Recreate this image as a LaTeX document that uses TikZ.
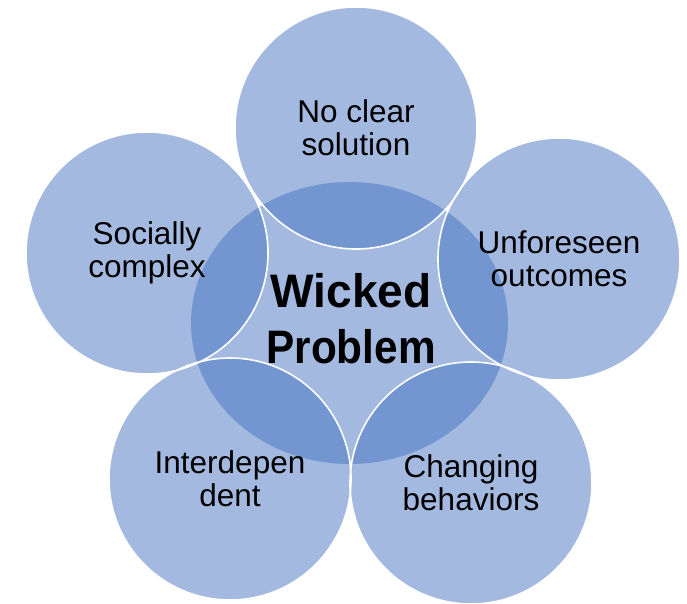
\documentclass[tikz,border=0pt]{standalone}
\usepackage{fontspec}
\setmainfont{Liberation Sans}
\newfontfamily\wfont[FakeStretch=0.9]{Liberation Sans}
\newfontfamily\wwfont[FakeStretch=0.98]{Liberation Sans}
\definecolor{lightblue}{HTML}{A3B9E0}
\definecolor{darkblue}{HTML}{7395D0}
\begin{document}
\begin{tikzpicture}[x=1pt,y=-1pt,
  lbl/.style={align=center,font=\fontsize{31.5}{33}\selectfont,inner sep=0pt,text=black},
  ring/.style={line width=1.6pt,draw=white},
  title/.style={align=center,font=\bfseries\fontsize{47}{56}\selectfont,inner sep=0pt,text=black}]
\useasboundingbox (0,0) rectangle (687,603);
\coordinate (c) at (349.5,323);
\coordinate (t) at (356,128);
\coordinate (r) at (559,259);
\coordinate (br) at (471,483);
\coordinate (bl) at (230,479);
\coordinate (l) at (147,253);
\fill[lightblue] (c) ellipse [x radius=158.5, y radius=141];
\foreach \p in {t,r,br,bl,l} \fill[lightblue] (\p) circle[radius=121];
\begin{scope}
  \clip (c) ellipse [x radius=158.5, y radius=141];
  \foreach \p in {t,r,br,bl,l} \fill[darkblue] (\p) circle[radius=121];
\end{scope}
\foreach \p in {t,r,br,bl,l} \draw[ring] (\p) circle[radius=121];
\node[lbl] (tt) at (t) {No clear\\solution};
\node[lbl] (rt) at (r) {Unforeseen\\outcomes};
\node[lbl] (brt) at (br) {Changing\\behaviors};
\node[lbl] (blt) at (bl) {Interdepen\\dent};
\node[lbl] (lt) at (l) {Socially\\complex};
\node[title] (w) at (351,319) {{\wwfont\bfseries Wicked}\\{\wfont\bfseries Problem}};
\end{tikzpicture}
\end{document}
